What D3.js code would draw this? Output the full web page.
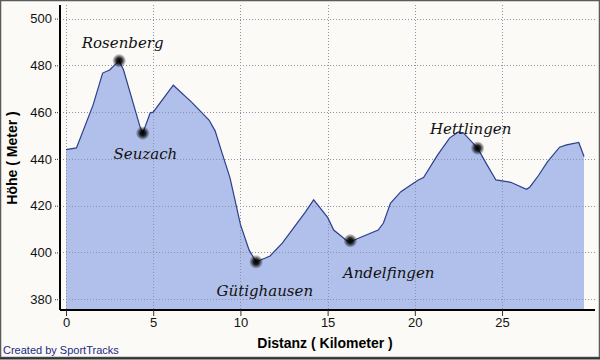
<!DOCTYPE html>
<html><head><meta charset="utf-8">
<script src="https://cdn.jsdelivr.net/npm/d3@7"></script>
<style>
html,body{margin:0;padding:0;background:#fff;}
svg{display:block;}
</style></head>
<body><svg id="c" width="600" height="360"></svg>
<script>
const distKm = [0,0.6,1.55,2.1,2.5,3.05,3.3,4.25,4.4,4.83,5.0,6.15,7.2,8.2,8.55,8.95,9.4,10.0,10.5,10.9,11.4,11.7,12.4,13.7,14.2,15.0,15.35,16.1,16.3,16.9,17.9,18.2,18.6,19.2,19.6,20.2,20.5,21.3,22.0,22.5,22.8,23.6,24.1,24.65,25.5,26.4,26.6,27.1,27.6,28.3,28.7,29.4,29.55,29.7];
const elevM = [444,444.7,463,476.7,478,482,478,453.6,451,459.7,460,471.5,464.3,456.6,452,442.5,432,412,401,396,397.5,398.5,404,417,422.5,415,409.6,405,404.6,406.5,409.6,412.6,421,426,428,431,432,441.6,449,451.5,451,444.6,438,431,430,427,428,433,438.7,445,446,447,444,441];
const xTicks = [0,5,10,15,20,25];
const yTicks = [380,400,420,440,460,480,500];
const places = ["Rosenberg","Seuzach","Gütighausen","Andelfingen","Hettlingen"];
const placeKm = [3.05,4.4,10.9,16.3,23.6];
const placeElev = [482,451,396,405,444.6];
const labelKm = [3.25,4.55,11.4,18.5,23.2];
const labelElev = [487.5,440,381.2,389,450.5];

const svg = d3.select("#c");
svg.append("rect").attr("x",0).attr("y",0).attr("width",600).attr("height",360).attr("fill","#fbfaf6");
svg.append("rect").attr("x",0.5).attr("y",0.5).attr("width",599).attr("height",357).attr("fill","none").attr("stroke","#5a5a5a").attr("stroke-width",1.5);
svg.append("line").attr("x1",0).attr("x2",600).attr("y1",358.5).attr("y2",358.5).attr("stroke","#333").attr("stroke-width",2);

const x = d3.scaleLinear().domain([-0.344,30.33]).range([60,595]);
const y = d3.scaleLinear().domain([375.4,505.8]).range([310,5]);

const pts = distKm.map((d,i)=>[d,elevM[i]]);
const area = d3.area().x(d=>x(d[0])).y0(310).y1(d=>y(d[1]));
svg.append("path").datum(pts).attr("d",area).attr("fill","#b1c0ea");

const g = svg.append("g");
g.selectAll(".hg").data(yTicks).join("line")
  .attr("x1",60).attr("x2",595).attr("y1",d=>Math.round(y(d))+0.5).attr("y2",d=>Math.round(y(d))+0.5)
  .attr("stroke","#8d92a8").attr("stroke-width",1).attr("stroke-dasharray","1,2");
g.selectAll(".vg").data(xTicks).join("line")
  .attr("x1",d=>Math.round(x(d))+0.5).attr("x2",d=>Math.round(x(d))+0.5).attr("y1",5).attr("y2",310)
  .attr("stroke","#8d92a8").attr("stroke-width",1).attr("stroke-dasharray","1,2");

svg.append("path").datum(pts).attr("d",d3.line().x(d=>x(d[0])).y(d=>y(d[1])))
  .attr("fill","none").attr("stroke","#2b3f8c").attr("stroke-width",1.2);

const yAxis = d3.axisLeft(y).tickValues(yTicks).tickSize(6).tickPadding(2);
const ya = svg.append("g").attr("transform","translate(60,0)").call(yAxis);
ya.select(".domain").attr("stroke","#000").attr("stroke-width",2).attr("d","M0,5V310");
ya.selectAll(".tick line").attr("stroke","#333").attr("stroke-dasharray","1,1");
ya.selectAll("text").attr("font-family","Liberation Sans, Arial, sans-serif").attr("font-size",13).attr("fill","#111");

const xAxis = d3.axisBottom(x).tickValues(xTicks).tickSize(6).tickPadding(2);
const xa = svg.append("g").attr("transform","translate(0,310)").call(xAxis);
xa.select(".domain").attr("stroke","#000").attr("stroke-width",2).attr("d","M60,0H595");
xa.selectAll(".tick line").attr("stroke","#333");
xa.selectAll("text").attr("font-family","Liberation Sans, Arial, sans-serif").attr("font-size",13).attr("fill","#111");

svg.append("text").attr("x",325).attr("y",348).attr("text-anchor","middle")
  .attr("font-family","Liberation Sans, Arial, sans-serif").attr("font-weight","bold").attr("font-size",14).attr("fill","#000")
  .text("Distanz ( Kilometer )");
svg.append("text").attr("transform","translate(17,158) rotate(-90)").attr("text-anchor","middle")
  .attr("font-family","Liberation Sans, Arial, sans-serif").attr("font-weight","bold").attr("font-size",14).attr("fill","#000")
  .text("Höhe ( Meter )");
svg.append("text").attr("x",3).attr("y",354)
  .attr("font-family","Liberation Sans, Arial, sans-serif").attr("font-size",11).attr("fill","#1c2a8a")
  .text("Created by SportTracks");

const defs = svg.append("defs");
const rg = defs.append("radialGradient").attr("id","dot");
rg.append("stop").attr("offset","0%").attr("stop-color","#000").attr("stop-opacity",1);
rg.append("stop").attr("offset","40%").attr("stop-color","#000").attr("stop-opacity",0.85);
rg.append("stop").attr("offset","100%").attr("stop-color","#000").attr("stop-opacity",0);
svg.selectAll(".dot").data(places).join("circle")
  .attr("cx",(d,i)=>x(placeKm[i])).attr("cy",(d,i)=>y(placeElev[i])).attr("r",7).attr("fill","url(#dot)");
svg.selectAll(".lbl").data(places).join("text")
  .attr("x",(d,i)=>x(labelKm[i])).attr("y",(d,i)=>y(labelElev[i])).attr("text-anchor","middle")
  .attr("font-family","DejaVu Serif, serif").attr("font-style","italic").attr("font-size",15).attr("fill","#111")
  .text(d=>d);
</script></body></html>
